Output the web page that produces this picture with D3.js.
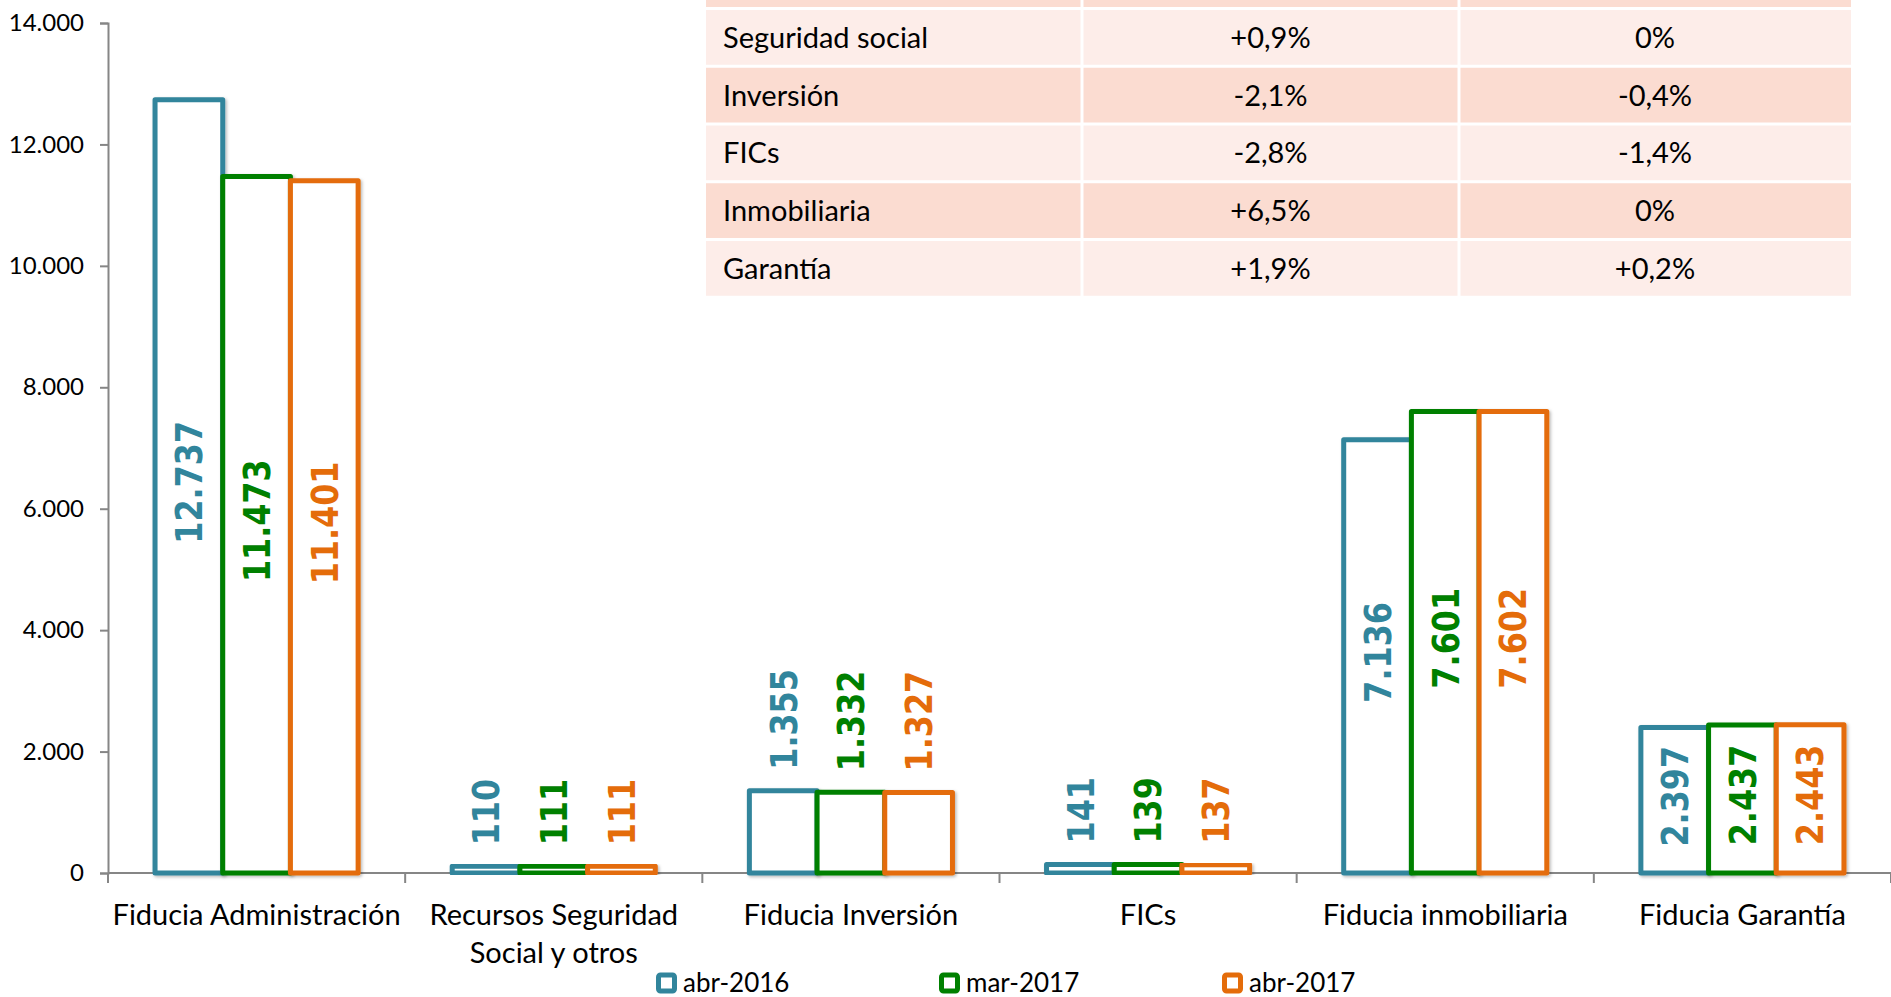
<!DOCTYPE html>
<html>
<head>
<meta charset="utf-8">
<script src="https://cdn.jsdelivr.net/npm/d3@7"></script>
<style>
  html, body { margin: 0; padding: 0; background: #fff; }
  svg { display: block; }
</style>
</head>
<body>
<svg id="chart" width="1891" height="997" font-family="Lato, 'Open Sans', sans-serif"></svg>
<script>
// Chart data
const categories = [
  'Fiducia Administración',
  'Recursos Seguridad\nSocial y otros',
  'Fiducia Inversión',
  'FICs',
  'Fiducia inmobiliaria',
  'Fiducia Garantía'
];
const seriesNames = ['abr-2016', 'mar-2017', 'abr-2017'];
const abr2016 = [12737, 110, 1355, 141, 7136, 2397];
const mar2017 = [11473, 111, 1332, 139, 7601, 2437];
const abr2017 = [11401, 111, 1327, 137, 7602, 2443];
const yTicks = [0, 2000, 4000, 6000, 8000, 10000, 12000, 14000];

// Inset table data
const tableRows = ['Seguridad social', 'Inversión', 'FICs', 'Inmobiliaria', 'Garantía'];
const tableCol2 = ['+0,9%', '-2,1%', '-2,8%', '+6,5%', '+1,9%'];
const tableCol3 = ['0%', '-0,4%', '-1,4%', '0%', '+0,2%'];

const colors = ['#31859C', '#008000', '#E46C0A'];
const seriesValues = [abr2016, mar2017, abr2017];

const es = d3.formatLocale({ decimal: ',', thousands: '.', grouping: [3], currency: ['$', ''] });
const fmt = es.format(',d');

const svg = d3.select('#chart');
const width = 1891;
const margin = { top: 23, left: 108, right: 0 };
const zeroY = 873;

const defs = svg.append('defs');
const shadow = defs.append('filter').attr('id', 'shadow')
  .attr('x', '-20%').attr('y', '-20%').attr('width', '140%').attr('height', '140%');
shadow.append('feDropShadow')
  .attr('dx', 1.5).attr('dy', 1.5).attr('stdDeviation', 1.8)
  .attr('flood-color', '#000').attr('flood-opacity', 0.28);

// Scales
const x = d3.scaleBand()
  .domain(categories)
  .range([margin.left, width - margin.right])
  .padding(0);

const band = x.bandwidth();
const barW = band / (3 + 1.39);
const groupOff = (band - 3 * barW) / 2;
const xs = d3.scaleBand()
  .domain(seriesNames)
  .range([groupOff, groupOff + 3 * barW])
  .padding(0);

const y = d3.scaleLinear()
  .domain([0, 14000])
  .range([zeroY, margin.top]);

// Y axis
const yAxis = svg.append('g')
  .attr('transform', `translate(${margin.left},0)`)
  .call(d3.axisLeft(y).tickValues(yTicks).tickFormat(fmt).tickSize(8).tickPadding(16));
yAxis.select('.domain').attr('stroke', '#868686').attr('stroke-width', 2);
yAxis.selectAll('.tick line').attr('stroke', '#868686').attr('stroke-width', 2);
yAxis.selectAll('.tick text')
  .attr('font-family', 'Lato')
  .attr('font-size', 24)
  .attr('fill', '#000');

// X axis line and category separators
const xg = svg.append('g');
xg.append('line')
  .attr('x1', margin.left).attr('x2', width)
  .attr('y1', zeroY).attr('y2', zeroY)
  .attr('stroke', '#868686').attr('stroke-width', 2);
xg.selectAll('.sep')
  .data(categories.concat(['end']))
  .enter().append('line')
  .attr('x1', (d, i) => margin.left + i * band)
  .attr('x2', (d, i) => margin.left + i * band)
  .attr('y1', zeroY).attr('y2', zeroY + 10)
  .attr('stroke', '#868686').attr('stroke-width', 2);

const catLabels = xg.selectAll('.cat')
  .data(categories)
  .enter().append('text')
  .attr('text-anchor', 'middle')
  .attr('font-size', 29)
  .attr('fill', '#000')
  .attr('x', d => x(d) + band / 2)
  .attr('y', 925);
catLabels.each(function (d) {
  const t = d3.select(this);
  d.split('\n').forEach((line, i) => {
    t.append('tspan')
      .attr('x', x(d) + band / 2)
      .attr('dy', i === 0 ? 0 : 38)
      .text(line);
  });
});

// Bars
const bars = svg.append('g');
seriesNames.forEach((s, si) => {
  const vals = seriesValues[si];
  bars.selectAll('.bar-' + si)
    .data(categories.map((c, i) => ({ c, v: vals[i] })))
    .enter().append('rect')
    .attr('x', d => x(d.c) + xs(s))
    .attr('y', d => y(d.v))
    .attr('width', xs.bandwidth())
    .attr('height', d => zeroY - y(d.v))
    .attr('fill', '#fff')
    .attr('stroke', colors[si])
    .attr('stroke-width', 5)
    .attr('stroke-linejoin', 'round')
    .attr('filter', 'url(#shadow)');
});

// Data labels (rotated)
const labelScale = 0.86;
const labels = svg.append('g');
seriesNames.forEach((s, si) => {
  const vals = seriesValues[si];
  labels.selectAll('.lbl-' + si)
    .data(categories.map((c, i) => ({ c, v: vals[i] })))
    .enter().append('text')
    .style('font-family', '"DejaVu Sans", Verdana, sans-serif')
    .style('font-weight', 'bold')
    .style('font-size', '37px')
    .style('fill', colors[si])
    .attr('dy', '0.36em')
    .text(d => fmt(d.v))
    .each(function (d) {
      const len = this.getComputedTextLength() * labelScale;
      const h = zeroY - y(d.v);
      const cx = x(d.c) + xs(s) + xs.bandwidth() / 2;
      const t = d3.select(this);
      if (h > len + 30) {
        t.attr('text-anchor', 'middle')
          .attr('transform', `translate(${cx},${(y(d.v) + zeroY) / 2 - 4}) rotate(-90) scale(${labelScale},1)`);
      } else {
        t.attr('text-anchor', 'start')
          .attr('transform', `translate(${cx},${y(d.v) - 21}) rotate(-90) scale(${labelScale},1)`);
      }
    });
});

// Inset table
const tbl = svg.append('g');
const colEdges = [706, 1082, 1459, 1851];
const rowH = 57.75;
const rowTop0 = 10;
const rowColors = ['#FDEDE9', '#FBDCD1'];
const gap = 3;

function cellRects(top, fill) {
  for (let c = 0; c < 3; c++) {
    tbl.append('rect')
      .attr('x', colEdges[c] + (c ? gap / 2 : 0))
      .attr('y', top)
      .attr('width', colEdges[c + 1] - colEdges[c] - (c ? gap / 2 : 0) - (c < 2 ? gap / 2 : 0))
      .attr('height', rowH - gap)
      .attr('fill', fill);
  }
}

// header row (cut off at top)
cellRects(rowTop0 - rowH, rowColors[1]);

tableRows.forEach((r, ri) => {
  const top = rowTop0 + ri * rowH;
  cellRects(top, rowColors[ri % 2]);
  const cy = top + (rowH - gap) / 2;
  tbl.append('text')
    .attr('x', colEdges[0] + 17)
    .attr('y', cy).attr('dy', '0.36em')
    .attr('font-size', 29)
    .text(r);
  tbl.append('text')
    .attr('x', (colEdges[1] + colEdges[2]) / 2)
    .attr('y', cy).attr('dy', '0.36em')
    .attr('text-anchor', 'middle')
    .attr('font-size', 29)
    .text(tableCol2[ri]);
  tbl.append('text')
    .attr('x', (colEdges[2] + colEdges[3]) / 2)
    .attr('y', cy).attr('dy', '0.36em')
    .attr('text-anchor', 'middle')
    .attr('font-size', 29)
    .text(tableCol3[ri]);
});

// Legend
const legend = svg.append('g');
const legendX = 656;
const legendStep = 283;
seriesNames.forEach((s, i) => {
  const g = legend.append('g').attr('transform', `translate(${legendX + i * legendStep},983)`);
  g.append('rect')
    .attr('x', 2.5).attr('y', -8)
    .attr('width', 16).attr('height', 16)
    .attr('rx', 2)
    .attr('fill', '#fff')
    .attr('stroke', colors[i])
    .attr('stroke-width', 5);
  g.append('text')
    .attr('x', 27)
    .attr('y', 0).attr('dy', '0.34em')
    .attr('font-size', 26)
    .text(s);
});
</script>
</body>
</html>
